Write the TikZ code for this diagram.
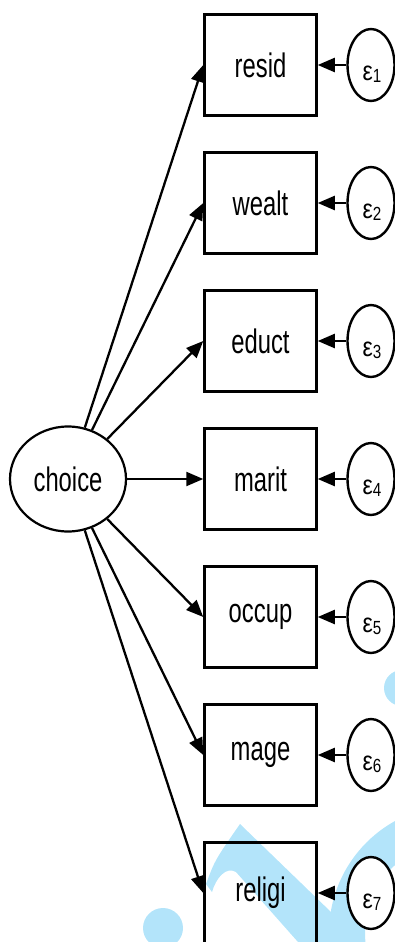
\documentclass[tikz,border=0pt]{standalone}
\usepackage{fontspec}
\setmainfont{Liberation Sans}
\usepackage{graphicx}
\usetikzlibrary{arrows.meta}
\usetikzlibrary{shapes.geometric}
\tikzset{obsbox/.style = {draw, line width = 2.5, minimum width = 112, minimum height = 101, inner sep = 0, font = \fontsize{34}{34}\selectfont}}
\tikzset{latent/.style = {draw, ellipse, line width = 2.2, fill = white, minimum width = 116, minimum height = 105, inner sep = 0, font = \fontsize{34}{34}\selectfont}}
\tikzset{errc/.style = {draw, ellipse, line width = 2.4, fill = white, minimum width = 47, minimum height = 72, inner sep = 0}}
\tikzset{path/.style = {line width = 2.3, -{Triangle[length = 17pt, width = 14pt]}}}
\definecolor{wmblue}{RGB}{179, 228, 250}
\newcommand{\sqz}[1]{\scalebox{0.7}[1]{#1}}
\newcommand{\errlab}[1]{\scalebox{0.85}[1]{\fontsize{27}{27}\selectfont ε}\raisebox{-2pt}{\scalebox{0.8}[1]{\fontsize{19}{19}\selectfont #1}}}

\begin{document}
\begin{tikzpicture}[x = 1pt, y = -1pt]
      \useasboundingbox (0, 0) rectangle (395, 942);
      % watermark
      \begin{scope}
        \clip (0, 0) rectangle (395, 942);
        \fill [wmblue] (402, 688) circle [radius = 18];
        \fill [wmblue] (163, 928) circle [radius = 20];
        \draw [wmblue, line width = 36] (457, 933) circle [radius = 110];
        \fill [wmblue] (240, 824) -- (362, 942) -- (298, 942) -- (236, 872)
          .. controls (226, 866) and (216, 878) .. (212, 892) -- (206, 884)
          .. controls (215, 860) .. cycle;
      \end{scope}
      \node [latent] (choice) at (68, 479) {\sqz{choice}};
      \foreach \nm [count = \i] in {resid, wealt, educt, marit, occup, mage, religi} {
        \node [obsbox] (\nm) at (260.5, {65 + 138*(\i - 1)}) {\sqz{\nm}};
        \node [errc] (e\i) at (371, {65 + 138*(\i - 1)}) {};
        \node (el\i) at (372, {74 + 138*(\i - 1)}) {\errlab{\i}};
        \draw [path] (e\i) -- (\nm);
        \draw [path] (choice) -- (\nm.west);
      }
\end{tikzpicture}
\end{document}
